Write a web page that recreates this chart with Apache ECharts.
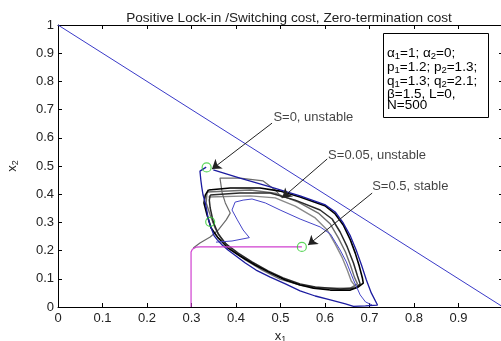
<!DOCTYPE html>
<html>
<head>
<meta charset="utf-8">
<script src="https://cdn.jsdelivr.net/npm/echarts@6/dist/echarts.min.js"></script>
<style>
html,body{margin:0;padding:0;background:#fff;}
#chart{width:501px;height:341px;}
</style>
</head>
<body>
<div id="chart"></div>
<script>
// Phase portrait of the two-population dynamics on the simplex x1 + x2 <= 1
const titleText = 'Positive Lock-in /Switching cost, Zero-termination cost';

// simplex boundary x1 + x2 = 1
const simplexEdge = [[0, 1], [1, 0]];

// initial states of the three trajectories (S=0, S=0.05, S=0.5)
const startPoints = [[0.334, 0.495], [0.342, 0.302], [0.548, 0.213]];

// S = 0 trajectory (unstable), outer cycle
const s0Outer = [
  [0.333, 0.496], [0.319, 0.482], [0.321, 0.450], [0.323, 0.426], [0.326, 0.397],
  [0.331, 0.369], [0.335, 0.337], [0.337, 0.316], [0.342, 0.291], [0.346, 0.273],
  [0.351, 0.252], [0.358, 0.238], [0.369, 0.220], [0.382, 0.202], [0.400, 0.181],
  [0.421, 0.156], [0.445, 0.131], [0.477, 0.106], [0.511, 0.082], [0.544, 0.057],
  [0.578, 0.039], [0.612, 0.025], [0.646, 0.011], [0.664, 0.002], [0.691, 0.004],
  [0.718, 0.007], [0.704, 0.050], [0.693, 0.096], [0.682, 0.149], [0.670, 0.202],
  [0.657, 0.252], [0.641, 0.298], [0.623, 0.337], [0.601, 0.362], [0.544, 0.394],
  [0.477, 0.426], [0.409, 0.457], [0.349, 0.486]
];

// S = 0 trajectory, inner cycle
const s0Inner = [
  [0.355, 0.230], [0.391, 0.234], [0.430, 0.246], [0.416, 0.273], [0.403, 0.309],
  [0.391, 0.344], [0.398, 0.372], [0.416, 0.379], [0.436, 0.383], [0.466, 0.369],
  [0.499, 0.344], [0.544, 0.312], [0.589, 0.284], [0.612, 0.259], [0.634, 0.202],
  [0.648, 0.160], [0.664, 0.096], [0.679, 0.043], [0.691, 0.018], [0.706, 0.007]
];

// S = 0.05 trajectory (unstable), successive cycles
const s005CycleA = [
  [0.338, 0.415], [0.387, 0.422], [0.454, 0.422], [0.499, 0.411], [0.544, 0.390],
  [0.601, 0.358], [0.623, 0.330], [0.641, 0.291], [0.657, 0.238], [0.668, 0.191],
  [0.677, 0.145], [0.684, 0.103], [0.686, 0.085], [0.675, 0.071], [0.657, 0.060],
  [0.612, 0.060], [0.574, 0.067], [0.544, 0.078], [0.511, 0.096], [0.477, 0.121],
  [0.443, 0.149], [0.409, 0.181], [0.382, 0.209], [0.360, 0.245], [0.344, 0.280],
  [0.335, 0.326], [0.328, 0.369], [0.331, 0.397], [0.338, 0.415]
];
const s005CycleB = [
  [0.342, 0.397], [0.409, 0.404], [0.477, 0.404], [0.533, 0.379], [0.589, 0.344],
  [0.616, 0.312], [0.634, 0.266], [0.650, 0.213], [0.664, 0.156], [0.673, 0.110],
  [0.679, 0.082], [0.668, 0.067], [0.634, 0.064], [0.578, 0.071], [0.544, 0.082],
  [0.506, 0.103], [0.472, 0.128], [0.436, 0.160], [0.405, 0.191], [0.378, 0.223],
  [0.360, 0.259], [0.349, 0.301], [0.342, 0.351], [0.340, 0.379], [0.342, 0.397]
];
const s005CycleC = [
  [0.335, 0.408], [0.432, 0.415], [0.488, 0.404], [0.540, 0.372], [0.585, 0.333],
  [0.612, 0.294], [0.630, 0.245], [0.646, 0.195], [0.657, 0.149], [0.666, 0.106],
  [0.673, 0.082], [0.657, 0.067], [0.589, 0.067], [0.544, 0.078], [0.499, 0.099],
  [0.459, 0.131], [0.421, 0.167], [0.391, 0.202], [0.369, 0.238], [0.353, 0.280],
  [0.342, 0.326], [0.333, 0.369], [0.335, 0.408]
];
const s005CycleD = [
  [0.338, 0.390], [0.432, 0.394], [0.488, 0.387], [0.533, 0.358], [0.578, 0.316],
  [0.605, 0.273], [0.623, 0.223], [0.639, 0.174], [0.650, 0.131], [0.659, 0.092],
  [0.668, 0.074], [0.657, 0.064]
];
const s005Transient = [
  [0.304, 0.209], [0.319, 0.227], [0.342, 0.248], [0.360, 0.273], [0.378, 0.309],
  [0.387, 0.333], [0.376, 0.369], [0.369, 0.404], [0.364, 0.457], [0.409, 0.457],
  [0.461, 0.447], [0.488, 0.415], [0.504, 0.387]
];

// S = 0.5 trajectory (stable)
const s05Path = [
  [0.548, 0.213], [0.320, 0.213], [0.310, 0.212], [0.302, 0.205], [0.299, 0.195], [0.299, 0]
];

// annotation labels and their arrows
const noteTexts = ['S=0, unstable', 'S=0.05, unstable', 'S=0.5, stable'];
const noteAnchors = [[0.484, 0.674], [0.607, 0.539], [0.706, 0.427]];
const arrowTails = [[0.481, 0.652], [0.605, 0.525], [0.706, 0.404]];
const arrowHeads = [[0.346, 0.489], [0.504, 0.387], [0.562, 0.220]];

// parameter legend lines (rich text)
const paramLines = [
  '{n|α}{s|1}{n|=1; α}{s|2}{n|=0;}',
  '{n|p}{s|1}{n|=1.2; p}{s|2}{n|=1.3;}',
  '{n|q}{s|1}{n|=1.3; q}{s|2}{n|=2.1;}',
  '{n|β=1.5, L=0,}',
  '{n|N=500}'
];
const paramLineY = [53, 67, 81, 94, 105];

const FONT = '"Liberation Sans", Arial, sans-serif';
const richSub = {
  n: { fontSize: 13.5, fontFamily: FONT, color: '#111', lineHeight: 16, verticalAlign: 'middle' },
  s: { fontSize: 9.5, fontFamily: FONT, color: '#111', lineHeight: 6, verticalAlign: 'bottom' }
};

const chart = echarts.init(document.getElementById('chart'), null, { renderer: 'canvas' });

function lineSeries(data, color, width) {
  return {
    type: 'line', data: data, showSymbol: false, symbol: 'none', smooth: false,
    lineStyle: { color: color, width: width }, animation: false, silent: true, z: 3
  };
}

const axisCommon = {
  type: 'value', min: 0, max: 1, interval: 0.1,
  axisLine: { show: true, onZero: false, lineStyle: { color: '#000', width: 1 } },
  axisTick: { show: true, inside: true, length: 4, lineStyle: { color: '#000' } },
  splitLine: { show: false }
};

const labelStyle = { fontSize: 13, fontFamily: FONT, color: '#222' };

chart.setOption({
  animation: false,
  backgroundColor: '#fff',
  title: {
    text: titleText, left: 284, top: 6, textAlign: 'center',
    textStyle: { fontSize: 13.6, fontWeight: 'normal', fontFamily: FONT, color: '#222' }
  },
  grid: { left: 58, right: -2, top: 25, bottom: 34, containLabel: false, outerBoundsMode: 'none' },
  xAxis: [
    Object.assign({}, axisCommon, {
      position: 'bottom',
      axisLabel: Object.assign({ margin: 5, showMaxLabel: false,
        formatter: v => String(+v.toFixed(1)) }, labelStyle),
      name: '{v|x}{s|1}', nameLocation: 'middle', nameGap: 17,
      nameTextStyle: { rich: { v: { fontSize: 13, fontFamily: FONT, color: '#222', lineHeight: 16 },
        s: { fontSize: 9, fontFamily: FONT, color: '#222', lineHeight: 6, verticalAlign: 'bottom' } } }
    }),
    Object.assign({}, axisCommon, { position: 'top', axisLabel: { show: false } })
  ],
  yAxis: [
    Object.assign({}, axisCommon, {
      position: 'left',
      axisLabel: Object.assign({ margin: 4, formatter: v => String(+v.toFixed(1)) }, labelStyle),
      name: '{v|x}{s|2}', nameLocation: 'middle', nameGap: 38,
      nameTextStyle: { rich: { v: { fontSize: 13, fontFamily: FONT, color: '#222', lineHeight: 16 },
        s: { fontSize: 9, fontFamily: FONT, color: '#222', lineHeight: 6, verticalAlign: 'bottom' } } }
    }),
    Object.assign({}, axisCommon, { position: 'right', axisLabel: { show: false } })
  ],
  series: [
    lineSeries(simplexEdge, '#3a3ac8', 1),
    lineSeries(s005CycleD, '#8a8a8a', 1.4),
    lineSeries(s005CycleC, '#6e6e6e', 1.4),
    lineSeries(s005Transient, '#6a6a6a', 1.2),
    lineSeries(s005CycleB, '#2a2a2a', 1.5),
    lineSeries(s005CycleA, '#000000', 1.6),
    lineSeries(s0Inner, '#4545c8', 1),
    lineSeries(s0Outer, '#1c1ca0', 1.3),
    lineSeries(s05Path, '#d040d0', 1.2),
    {
      type: 'scatter', data: startPoints, symbol: 'circle', symbolSize: 9, z: 5,
      itemStyle: { color: 'rgba(0,0,0,0)', borderColor: '#33cc33', borderWidth: 1.2 },
      silent: true
    },
    {
      type: 'lines', coordinateSystem: 'cartesian2d', z: 6, silent: true,
      data: arrowTails.map((t, i) => ({ coords: [t, arrowHeads[i]] })),
      symbol: ['none', 'arrow'], symbolSize: [0, 9],
      lineStyle: { color: '#222', width: 1, opacity: 1 }
    },
    {
      type: 'scatter', data: noteAnchors.map((p, i) => ({ value: p, name: noteTexts[i] })),
      symbolSize: 0, z: 7, silent: true,
      label: { show: true, position: [0, 0], align: 'left', verticalAlign: 'middle',
        formatter: p => p.name, fontSize: 13, fontFamily: FONT, color: '#111' }
    }
  ],
  graphic: [
    { type: 'rect', shape: { x: 383.5, y: 33.5, width: 105, height: 84 },
      style: { fill: '#fff', stroke: '#000', lineWidth: 1 }, z: 10 }
  ].concat(paramLines.map((t, i) => ({
    type: 'text', x: 387, y: paramLineY[i], z: 11,
    style: { text: t, rich: richSub, verticalAlign: 'middle', align: 'left' }
  })))
});
</script>
</body>
</html>
